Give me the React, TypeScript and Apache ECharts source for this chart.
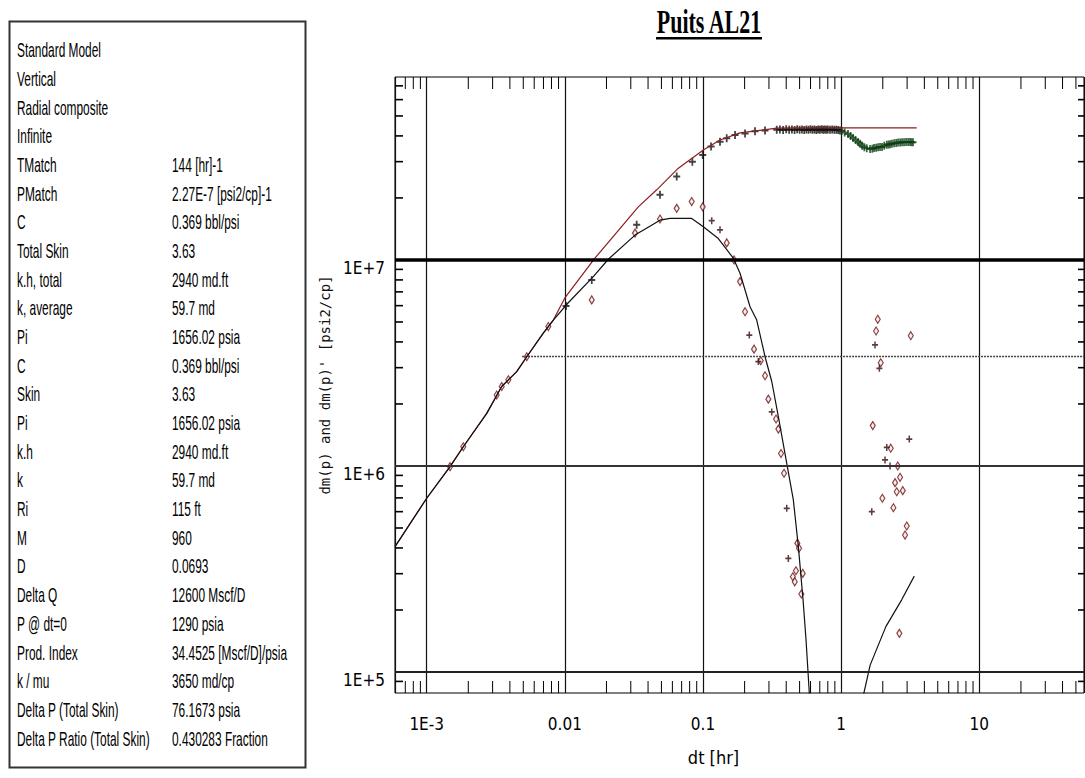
import React, { useEffect, useRef } from "react";
import * as echarts from "echarts";

// Axis extents (log-log)
const X_MIN = 5.896e-4;
const X_MAX = 57.2;
const Y_MIN = 7.907e4;
const Y_MAX = 7.727e7;

const xTickValues = [1e-3, 1e-2, 1e-1, 1, 10];
const xTickLabels = ["1E-3", "0.01", "0.1", "1", "10"];
const yTickValues = [1e5, 1e6, 1e7];
const yTickLabels = ["1E+5", "1E+6", "1E+7"];

// Model curve: dm(p)
const pressureModel: [number, number][] = [
  [5.9e-4, 4.06e5], [1.0e-3, 6.97e5], [1.475e-3, 9.92e5], [1.84e-3, 1.24e6],
  [2.72e-3, 1.8e6], [3.49e-3, 2.43e6], [4.48e-3, 2.87e6], [5.3e-3, 3.39e6],
  [6.98e-3, 4.41e6], [8.25e-3, 5.11e6], [1.0e-2, 6.54e6], [1.65e-2, 1.02e7],
  [3.4e-2, 1.81e7], [4.62e-2, 2.19e7], [6.63e-2, 2.79e7], [0.1005, 3.42e7],
  [0.1327, 3.82e7], [0.1853, 4.14e7], [0.3416, 4.36e7], [0.504, 4.38e7],
  [1.02, 4.38e7], [3.52, 4.38e7],
];

// Model curve: dm(p)' (early and late branches)
const derivativeModel: [number, number][] = [
  [5.9e-4, 4.06e5], [1.0e-3, 6.97e5], [1.475e-3, 9.92e5], [1.84e-3, 1.24e6],
  [2.72e-3, 1.8e6], [3.49e-3, 2.43e6], [4.48e-3, 2.87e6], [5.3e-3, 3.39e6],
  [6.98e-3, 4.41e6], [8.25e-3, 5.11e6], [1.054e-2, 6.18e6], [1.606e-2, 8.3e6],
  [2.063e-2, 1.008e7], [3.22e-2, 1.32e7], [4.88e-2, 1.56e7], [5.77e-2, 1.59e7],
  [8.28e-2, 1.59e7], [0.1005, 1.45e7], [0.129, 1.27e7], [0.1657, 1.02e7],
  [0.1853, 8.62e6], [0.2189, 5.93e6], [0.2447, 5.11e6], [0.2811, 3.39e6],
  [0.3144, 2.57e6], [0.3509, 1.735e6], [0.4036, 1.03e6], [0.4505, 6.84e5],
  [0.4897, 4.06e5], [0.5296, 2.24e5], [0.5566, 1.43e5], [0.589, 7.73e4],
  [0.6, 5.85e4],
];
const derivativeModelLate: [number, number][] = [
  [1.392, 5.85e4], [1.449, 7.73e4], [1.62, 1.08e5], [2.105, 1.66e5],
  [2.74, 2.24e5], [3.38, 2.92e5],
];

// Measured dm(p) before and after 1 hr
const pressureData: [number, number][] = [
  [1.02e-2, 5.98e6], [1.565e-2, 8.0e6], [3.31e-2, 1.48e7], [4.88e-2, 2.07e7],
  [6.45e-2, 2.54e7], [8.37e-2, 3.0e7], [9.95e-2, 3.23e7], [0.1143, 3.55e7],
  [0.1327, 3.75e7], [0.1484, 3.9e7], [0.1705, 4.04e7], [0.2014, 4.11e7],
  [0.2378, 4.21e7], [0.281, 4.25e7], [0.3416, 4.28e7], [0.36, 4.3e7],
  [0.38, 4.27e7], [0.4, 4.31e7], [0.42, 4.28e7], [0.44, 4.3e7],
  [0.46, 4.27e7], [0.48, 4.31e7], [0.5, 4.29e7], [0.52, 4.3e7],
  [0.54, 4.27e7], [0.56, 4.3e7], [0.58, 4.28e7], [0.6, 4.31e7],
  [0.62, 4.28e7], [0.64, 4.3e7], [0.66, 4.27e7], [0.68, 4.3e7],
  [0.7, 4.28e7], [0.72, 4.31e7], [0.74, 4.29e7], [0.76, 4.3e7],
  [0.78, 4.28e7], [0.8, 4.3e7], [0.83, 4.29e7], [0.86, 4.3e7],
  [0.89, 4.28e7], [0.92, 4.29e7], [0.95, 4.27e7], [0.98, 4.25e7],
];
const pressureDataLate: [number, number][] = [
  [1.01, 4.23e7], [1.06, 4.16e7], [1.121, 4.09e7], [1.17, 4.0e7],
  [1.219, 3.91e7], [1.27, 3.82e7], [1.325, 3.74e7], [1.37, 3.66e7],
  [1.416, 3.58e7], [1.47, 3.52e7], [1.531, 3.48e7], [1.618, 3.46e7],
  [1.68, 3.47e7], [1.729, 3.49e7], [1.79, 3.5e7], [1.848, 3.52e7],
  [1.91, 3.53e7], [1.976, 3.53e7], [2.05, 3.58e7], [2.137, 3.62e7],
  [2.2, 3.63e7], [2.258, 3.64e7], [2.33, 3.66e7], [2.414, 3.68e7],
  [2.5, 3.7e7], [2.58, 3.72e7], [2.67, 3.72e7], [2.757, 3.73e7],
  [2.85, 3.73e7], [2.948, 3.74e7], [3.05, 3.74e7], [3.15, 3.74e7],
  [3.23, 3.73e7], [3.31, 3.73e7],
];

// Measured dm(p)' — open diamonds and filled crosses
const derivativeDiamonds: [number, number][] = [
  [1.475e-3, 9.92e5], [1.84e-3, 1.24e6], [3.21e-3, 2.21e6], [3.49e-3, 2.43e6],
  [3.9e-3, 2.62e6], [5.3e-3, 3.39e6], [7.59e-3, 4.75e6], [1.565e-2, 6.4e6],
  [3.22e-2, 1.35e7], [4.88e-2, 1.58e7], [6.45e-2, 1.78e7], [8.28e-2, 1.92e7],
  [9.95e-2, 1.81e7], [0.1484, 1.21e7], [0.1677, 1.0e7], [0.1853, 7.85e6],
  [0.2014, 5.61e6], [0.2339, 3.69e6], [0.2616, 3.24e6], [0.2811, 2.74e6],
  [0.297, 2.11e6], [0.3376, 1.69e6], [0.3509, 1.51e6], [0.3668, 1.15e6],
  [0.3857, 9.22e5], [0.4816, 4.22e5], [0.4953, 3.99e5], [0.4705, 3.1e5],
  [0.4467, 2.9e5], [0.5268, 3.01e5], [0.4613, 2.74e5], [0.5148, 2.39e5],
  [1.839, 5.15e6], [1.788, 4.52e6], [3.19, 4.29e6], [1.933, 3.17e6],
  [1.692, 1.57e6], [2.284, 1.22e6], [2.567, 1.0e6], [2.667, 8.81e5],
  [2.454, 8.3e5], [2.524, 7.5e5], [2.79, 7.59e5], [1.986, 6.97e5],
  [2.386, 6.27e5], [2.983, 5.11e5], [2.899, 4.62e5], [2.636, 1.54e5],
];
const derivativeCrosses: [number, number][] = [
  [0.1156, 1.55e7], [0.1327, 1.4e7], [0.2163, 4.32e6], [0.2514, 3.21e6],
  [0.3144, 1.83e6], [0.4036, 6.23e5], [0.4145, 3.56e5], [1.758, 3.87e6],
  [1.889, 2.98e6], [3.11, 1.35e6], [2.137, 1.23e6], [2.077, 1.07e6],
  [2.258, 1.0e6], [1.664, 6.0e5],
];

// Horizontal reference level (dotted)
const refLevel = 3.4e6;
const refStart = 4.9e-3;

// Parameter table
const paramNames = [
  "Standard Model", "Vertical", "Radial composite", "Infinite", "TMatch",
  "PMatch", "C", "Total Skin", "k.h, total", "k, average", "Pi", "C", "Skin",
  "Pi", "k.h", "k", "Ri", "M", "D", "Delta Q", "P @ dt=0", "Prod. Index",
  "k / mu", "Delta P (Total Skin)", "Delta P Ratio (Total Skin)",
];
const paramValues = [
  "", "", "", "", "144 [hr]-1", "2.27E-7 [psi2/cp]-1", "0.369 bbl/psi", "3.63",
  "2940 md.ft", "59.7 md", "1656.02 psia", "0.369 bbl/psi", "3.63",
  "1656.02 psia", "2940 md.ft", "59.7 md", "115 ft", "960", "0.0693",
  "12600 Mscf/D", "1290 psia", "34.4525 [Mscf/D]/psia", "3650 md/cp",
  "76.1673 psia", "0.430283 Fraction",
];

const PLUS = "path://M3,0H5V3H8V5H5V8H3V5H0V3H3Z";
const DIAMOND = "path://M3,0L6,5L3,10L0,5Z";
const NARROW = "'Liberation Sans Narrow', 'DejaVu Sans Condensed', 'Liberation Sans', sans-serif";

function minorTicks(lo: number, hi: number): number[] {
  const out: number[] = [];
  for (let e = Math.floor(Math.log10(lo)); e <= Math.ceil(Math.log10(hi)); e++) {
    for (let m = 2; m <= 9; m++) {
      const v = m * Math.pow(10, e);
      if (v > lo * 1.02 && v < hi * 0.98) out.push(v);
    }
  }
  return out;
}

function labelFor(values: number[], labels: string[]) {
  return (v: number) => {
    const i = values.findIndex((t) => Math.abs(Math.log10(t) - Math.log10(v)) < 1e-6);
    return i >= 0 ? labels[i] : "";
  };
}

export default function App() {
  const ref = useRef<HTMLDivElement>(null);

  useEffect(() => {
    if (!ref.current) return;
    const chart = echarts.init(ref.current, null, { renderer: "svg" });

    const rowY = (i: number) => 50 + 28.68 * i;
    const panelText: any[] = [];
    paramNames.forEach((name, i) => {
      panelText.push({
        type: "text", x: 17, y: rowY(i), scaleX: 0.85, scaleY: 1.38,
        style: { text: name, fontFamily: "Liberation Sans", fontSize: 14, fill: "#000",
          verticalAlign: "middle", textVerticalAlign: "middle" },
      });
      if (paramValues[i]) {
        panelText.push({
          type: "text", x: 172, y: rowY(i), scaleX: 0.85, scaleY: 1.38,
          style: { text: paramValues[i], fontFamily: "Liberation Sans", fontSize: 14, fill: "#000",
            verticalAlign: "middle", textVerticalAlign: "middle" },
        });
      }
    });

    const tickStyle = { stroke: "#000", lineWidth: 1 };

    chart.setOption({
      animation: false,
      backgroundColor: "#fff",
      grid: { left: 395, right: 1, top: 77, bottom: 85, show: true, borderColor: "#000", borderWidth: 1 },
      xAxis: {
        type: "log", logBase: 10, min: X_MIN, max: X_MAX,
        axisLine: { show: false }, axisTick: { show: false },
        splitLine: { show: true, lineStyle: { color: "#111", width: 1.2 } },
        axisLabel: {
          formatter: labelFor(xTickValues, xTickLabels), showMinLabel: false, showMaxLabel: false,
          fontFamily: NARROW, fontSize: 17, color: "#000", margin: 22,
        },
        name: "dt [hr]", nameLocation: "middle", nameGap: 55,
        nameTextStyle: { fontFamily: NARROW, fontSize: 18, color: "#000", padding: [0, 52, 0, 0] },
      },
      yAxis: {
        type: "log", logBase: 10, min: Y_MIN, max: Y_MAX,
        axisLine: { show: false }, axisTick: { show: false },
        splitLine: { show: false },
        axisLabel: {
          formatter: labelFor(yTickValues, yTickLabels), showMinLabel: false, showMaxLabel: false,
          fontFamily: NARROW, fontSize: 17, color: "#000", margin: 10, verticalAlign: "top",
        },
        name: "dm(p) and dm(p)' [psi2/cp]", nameLocation: "middle", nameGap: 52,
        nameTextStyle: { fontFamily: "'DejaVu Sans Mono', monospace", fontSize: 14, color: "#111" },
      },
      graphic: [
        { type: "rect", shape: { x: 9.5, y: 21.5, width: 296, height: 746 },
          style: { fill: "#fff", stroke: "#333", lineWidth: 2 } },
        ...panelText,
        { type: "text", x: 709, y: 22, scaleY: 1.5,
          style: { text: "Puits AL21", fontFamily: "'Liberation Serif', serif", fontWeight: "bold",
            fontSize: 22, fill: "#000", align: "center", textAlign: "center",
            verticalAlign: "middle", textVerticalAlign: "middle" } },
        { type: "rect", shape: { x: 656, y: 37, width: 106, height: 2.5 }, style: { fill: "#000" } },
      ],
      series: [
        {
          type: "custom", name: "xMinorTicks", silent: true, clip: false,
          data: minorTicks(X_MIN, X_MAX).map((v) => [v, Y_MIN]),
          renderItem: (_p: any, api: any) => {
            const v = api.value(0);
            const b = api.coord([v, Y_MIN]);
            const t = api.coord([v, Y_MAX]);
            return { type: "group", children: [
              { type: "line", shape: { x1: b[0], y1: b[1], x2: b[0], y2: b[1] - 12 }, style: tickStyle },
              { type: "line", shape: { x1: t[0], y1: t[1], x2: t[0], y2: t[1] + 12 }, style: tickStyle },
            ] };
          },
        },
        {
          type: "custom", name: "yMinorTicks", silent: true, clip: false,
          data: minorTicks(Y_MIN, Y_MAX).map((v) => [X_MIN, v]),
          renderItem: (_p: any, api: any) => {
            const v = api.value(1);
            const l = api.coord([X_MIN, v]);
            const r = api.coord([X_MAX, v]);
            return { type: "group", children: [
              { type: "line", shape: { x1: l[0], y1: l[1], x2: l[0] + 8, y2: l[1] }, style: { stroke: "#000", lineWidth: 1.6 } },
              { type: "line", shape: { x1: r[0], y1: r[1], x2: r[0] - 6, y2: r[1] }, style: { stroke: "#000", lineWidth: 1.6 } },
            ] };
          },
        },
        {
          type: "line", name: "ref", data: [[refStart, refLevel], [X_MAX, refLevel]],
          showSymbol: false, silent: true,
          lineStyle: { color: "#444", width: 1.5, type: [2, 1] },
        },
        {
          type: "line", name: "dm(p) model", data: pressureModel, showSymbol: false, silent: true,
          lineStyle: { color: "#8b1e1e", width: 1.2 },
          markLine: {
            silent: true, symbol: "none", label: { show: false },
            data: [
              { yAxis: yTickValues[2], lineStyle: { color: "#000", width: 3.5, type: "solid" } },
              { yAxis: yTickValues[1], lineStyle: { color: "#333", width: 1.8, type: "solid" } },
              { yAxis: yTickValues[0], lineStyle: { color: "#222", width: 1.8, type: "solid" } },
            ],
          },
        },
        {
          type: "line", name: "dm(p)' model", data: derivativeModel, showSymbol: false, silent: true,
          lineStyle: { color: "#111", width: 1.2 },
        },
        {
          type: "line", name: "dm(p)' model late", data: derivativeModelLate, showSymbol: false, silent: true,
          lineStyle: { color: "#111", width: 1.2 },
        },
        {
          type: "scatter", name: "dm(p)", data: pressureData, symbol: PLUS, symbolSize: [7, 8],
          itemStyle: { color: "#111" }, silent: true,
        },
        {
          type: "scatter", name: "dm(p) late", data: pressureDataLate, symbol: PLUS, symbolSize: [7, 8],
          itemStyle: { color: "#0c3d12" }, silent: true,
        },
        {
          type: "scatter", name: "dm(p)'", data: derivativeDiamonds, symbol: DIAMOND, symbolSize: [5, 8],
          itemStyle: { color: "#f4e8e8", borderColor: "#6e1212", borderWidth: 1.2 }, silent: true,
        },
        {
          type: "scatter", name: "dm(p)' +", data: derivativeCrosses, symbol: PLUS, symbolSize: [6, 7],
          itemStyle: { color: "#3a0a0a" }, silent: true,
        },
      ],
    });

    return () => chart.dispose();
  }, []);

  return (
    <div
      ref={ref}
      style={{ position: "fixed", left: 0, top: 0, width: 1085, height: 778, background: "#fff" }}
    />
  );
}
